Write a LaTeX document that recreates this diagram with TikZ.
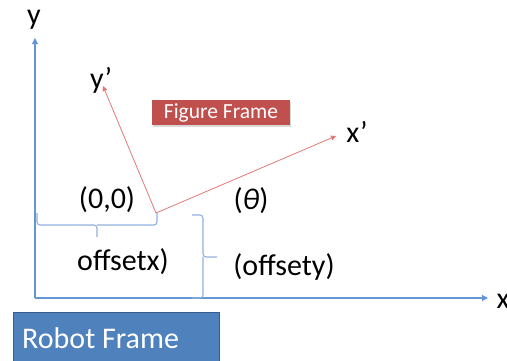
\documentclass[tikz,border=0pt]{standalone}
\usepackage{fontspec}
\setmainfont{Carlito}
\usepackage{tikz}
\usetikzlibrary{arrows.meta, positioning, shadows}
\definecolor{axisblue}{RGB}{100, 150, 212}
\definecolor{bracelight}{RGB}{143, 176, 220}
\definecolor{framered}{RGB}{192, 80, 77}
\definecolor{arrowred}{RGB}{226, 120, 120}
\definecolor{robotblue}{RGB}{79, 129, 189}
\definecolor{robotedge}{RGB}{56, 93, 138}

\begin{document}
\begin{tikzpicture}[x=1pt, y=1pt,
    lbl/.style={inner sep=0pt, font=\fontsize{30}{36}\selectfont},
    axisline/.style={axisblue, line width=1.1pt, -{Triangle[width=6pt, length=6pt]}},
    rotline/.style={arrowred, line width=0.8pt, -{Triangle[width=5pt, length=5pt]}},
    bracket/.style={bracelight, line width=1.1pt, rounded corners=3pt}]
  \useasboundingbox (0,0) rectangle (507,360);

  % Robot frame axes
  \coordinate (origin) at (35,62);
  \coordinate (ytip) at (35,322);
  \coordinate (xtip) at (488,62);
  \draw[axisline] (origin) -- (ytip);
  \draw[axisline] (origin) -- (xtip);
  \node[lbl] (ylab) at (34,340) {y};
  \node[lbl] (xlab) at (503,59) {x};

  % Figure frame axes
  \coordinate (forigin) at (156,147);
  \coordinate (fytip) at (103,274);
  \coordinate (fxtip) at (336,224);
  \draw[rotline] (forigin) -- (fytip);
  \draw[rotline] (forigin) -- (fxtip);
  \node[lbl] (fylab) at (101,280) {y’};
  \node[lbl] (fxlab) at (357,228) {x’};

  % Offsets
  \coordinate (xmid) at (97,135);
  \coordinate (ymid) at (203,103);
  \draw[bracket] (37,147) |- (xmid) -- ++(0,-12);
  \draw[bracket] (157,147) |- (xmid);
  \draw[bracket] (192,145) -| (ymid) -- ++(14,0);
  \draw[bracket] (192,62) -| (ymid);
  \node[lbl] (zero) at (107,160) {(0,0)};
  \node[lbl] (theta) at (251,159) {(\textit{θ})};
  \node[lbl] (offx) at (123,98) {offsetx)};
  \node[lbl] (offy) at (284,93) {(offsety)};

  % Frame labels
  \node[fill=framered, text=white, drop shadow={opacity=0.3, shadow xshift=1pt, shadow yshift=-2pt},
        minimum width=138pt, minimum height=25pt, inner sep=0pt,
        font=\fontsize{21.5}{25}\selectfont] (figframe) at (221,247.5) {Figure Frame};
  \fill[robotblue, draw=robotedge, line width=1pt] (13,48) rectangle (219,-10);
  \node[anchor=base west, inner sep=0pt, text=white, font=\fontsize{30}{36}\selectfont] (robframe) at (22,12) {Robot Frame};
\end{tikzpicture}
\end{document}
